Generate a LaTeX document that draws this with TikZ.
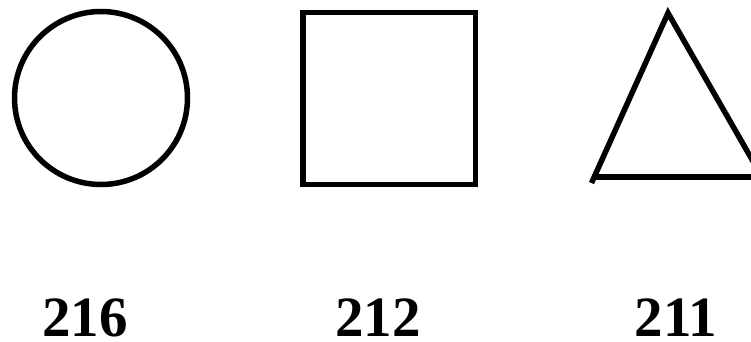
\documentclass[tikz,border=0pt]{standalone}
\usepackage{fontspec}
\setmainfont{Liberation Serif}
\begin{document}
\begin{tikzpicture}[x=1pt,y=-1pt,
  outline/.style={line width=5.5pt,black},
  lbl/.style={font=\fontsize{57}{60}\selectfont\bfseries,inner sep=0pt,anchor=base}]
\useasboundingbox (0,0) rectangle (751,342);
\begin{scope}
\clip (0,0) rectangle (751,342);
\draw[outline] (101,98) circle[radius=86.5];
\draw[outline] (303,12.3) rectangle (475.5,184.3);
\coordinate (apex) at (668,13);
\coordinate (bl) at (591.5,183);
\coordinate (bstart) at (594.5,177);
\coordinate (br) at (762,177);
\draw[outline] (bl) -- (apex) -- (br);
\draw[outline] (bstart) -- (br);
\end{scope}
\node[lbl] (t1) at (85,336) {216};
\node[lbl] (t2) at (378,336) {212};
\node[lbl] (t3) at (676,336) {211};
\end{tikzpicture}
\end{document}
